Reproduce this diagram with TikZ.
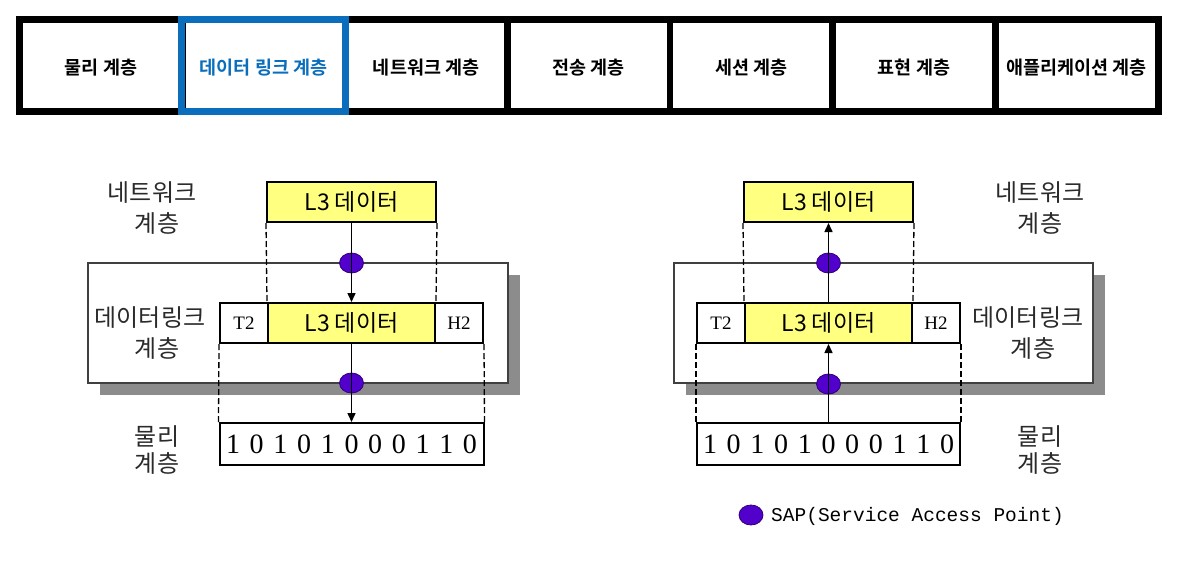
\documentclass[tikz,border=0pt]{standalone}
\usepackage{fontspec}
\setmainfont{Liberation Serif}
\newfontfamily\kr{Noto Sans CJK KR}
\newfontfamily\krb{Noto Sans CJK KR Bold}
\newfontfamily\mono{Liberation Mono}
\usetikzlibrary{arrows.meta,shapes.geometric}
\definecolor{sapc}{HTML}{5200CC}
\definecolor{yel}{HTML}{FFFF80}
\definecolor{tabblue}{HTML}{0A6EBD}
\definecolor{shadowc}{HTML}{8C8C8C}
\definecolor{labelc}{HTML}{2A2A2A}
\newcommand\bitgap{\hskip9.7pt}
\begin{document}
\begin{tikzpicture}[x=1pt,y=-1pt,
  tabcell/.style={fill=white,draw=none},
  tab/.style={inner sep=0,font=\krb\fontsize{18.5}{18.5}\selectfont},
  ybox/.style={draw=black,line width=2pt,fill=yel,inner sep=0,minimum height=40pt,
    font=\kr\fontsize{23}{23}\selectfont},
  wbox/.style={draw=black,line width=2pt,fill=white,inner sep=0,minimum height=40pt,
    font=\fontsize{19}{19}\selectfont},
  physbox/.style={draw=black,line width=2pt,fill=white,inner sep=0,minimum width=264pt,
    minimum height=42pt,font=\fontsize{28}{28}\selectfont},
  sap/.style={ellipse,fill=sapc,draw=sapc!60!black,line width=0.8pt,inner sep=0,
    minimum width=24pt,minimum height=20pt},
  frm/.style={draw=black!75,line width=1.5pt,fill=white},
  shd/.style={fill=shadowc,draw=none},
  guide/.style={line width=1.3pt,dash pattern=on 6pt off 3pt},
  flow/.style={line width=1.5pt,-{Triangle[length=9pt,width=8pt]}},
  lbl/.style={text=labelc,inner sep=0,font=\kr\fontsize{24}{24}\selectfont},
  legend/.style={inner sep=0,anchor=west,font=\mono\fontsize{19.5}{19.5}\selectfont}]
\useasboundingbox (0,0) rectangle (1177,565);
\fill[white] (0,0) rectangle (1177,565);

% ---------- tab bar ----------
\fill[black] (16,16) rectangle (1162,115);
\foreach \k in {0,...,6}{
  \fill[tabcell] ({23+162.6*\k},23) rectangle ({23+162.6*\k+155.9},107.5);
}
\node[tab] (tab1) at (100.95,67.5) {물리 계층};
\node[tab,text=tabblue] (tab2) at (263.55,67.5) {데이터 링크 계층};
\node[tab] (tab3) at (426.15,67.5) {네트워크 계층};
\node[tab] (tab4) at (588.75,67.5) {전송 계층};
\node[tab] (tab5) at (751.35,67.5) {세션 계층};
\node[tab] (tab6) at (913.95,67.5) {표현 계층};
\node[tab] (tab7) at (1076.55,67.5) {애플리케이션 계층};
\draw[tabblue,line width=7pt] (181.8,19.5) rectangle (345.2,111.5);

% ---------- left diagram ----------
\fill[shd] (100,275) rectangle (520,395);
\draw[frm] (88,263) rectangle (508,383);

\node[ybox,minimum width=169pt] (Ltop) at (351.5,202) {L3 데이터};
\node[wbox,minimum width=48pt] (LT2) at (244,323) {T2};
\node[ybox,minimum width=167pt] (Lmid) at (351.5,323) {L3 데이터};
\node[wbox,minimum width=48pt] (LH2) at (459,323) {H2};
\node[physbox] (Lphys) at (351.5,444) {1\bitgap0\bitgap1\bitgap0\bitgap1\bitgap0\bitgap0\bitgap0\bitgap1\bitgap1\bitgap0};

\draw[guide] (Ltop.south west) -- (Lmid.north west);
\draw[guide] (Ltop.south east) -- (Lmid.north east);
\draw[guide] (LT2.south west) -- (Lphys.north west);
\draw[guide] (LH2.south east) -- (Lphys.north east);

\node[sap] (Lsap1) at (351.5,263) {};
\node[sap] (Lsap2) at (351.5,383) {};
\draw[flow] (Ltop.south) -- (Lmid.north);
\draw[flow] (Lmid.south) -- (Lphys.north);

\node[lbl] (Lnet1) at (152,193) {네트워크};
\node[lbl] (Lnet2) at (157,223) {계층};
\node[lbl] (Ldl1) at (150,318) {데이터링크};
\node[lbl] (Ldl2) at (157,348) {계층};
\node[lbl] (Lph1) at (157,437) {물리};
\node[lbl] (Lph2) at (157,463) {계층};

% ---------- right diagram ----------
\fill[shd] (686,275) rectangle (1105,395);
\draw[frm] (674,263) rectangle (1093,383);

\node[ybox,minimum width=169pt] (Rtop) at (828.5,202) {L3 데이터};
\node[wbox,minimum width=48pt] (RT2) at (721,323) {T2};
\node[ybox,minimum width=167pt] (Rmid) at (828.5,323) {L3 데이터};
\node[wbox,minimum width=48pt] (RH2) at (936,323) {H2};
\node[physbox,minimum width=263pt] (Rphys) at (828.5,444) {1\bitgap0\bitgap1\bitgap0\bitgap1\bitgap0\bitgap0\bitgap0\bitgap1\bitgap1\bitgap0};

\draw[guide] (Rtop.south west) -- (Rmid.north west);
\draw[guide] (Rtop.south east) -- (Rmid.north east);
\draw[guide] (RT2.south west) -- (Rphys.north west);
\draw[guide] (RH2.south east) -- (Rphys.north east);

\node[sap] (Rsap1) at (828.5,263) {};
\node[sap] (Rsap2) at (828.5,384) {};
\draw[flow] (Rmid.north) -- (Rtop.south);
\draw[flow] (Rphys.north) -- (Rmid.south);

\node[lbl] (Rnet1) at (1040,193) {네트워크};
\node[lbl] (Rnet2) at (1040,223) {계층};
\node[lbl] (Rdl1) at (1028,318) {데이터링크};
\node[lbl] (Rdl2) at (1033,348) {계층};
\node[lbl] (Rph1) at (1040,437) {물리};
\node[lbl] (Rph2) at (1040,463) {계층};

% ---------- legend ----------
\node[sap] (legsap) at (751,515) {};
\node[legend] (legtxt) at (771,516) {SAP(Service Access Point)};
\end{tikzpicture}
\end{document}
